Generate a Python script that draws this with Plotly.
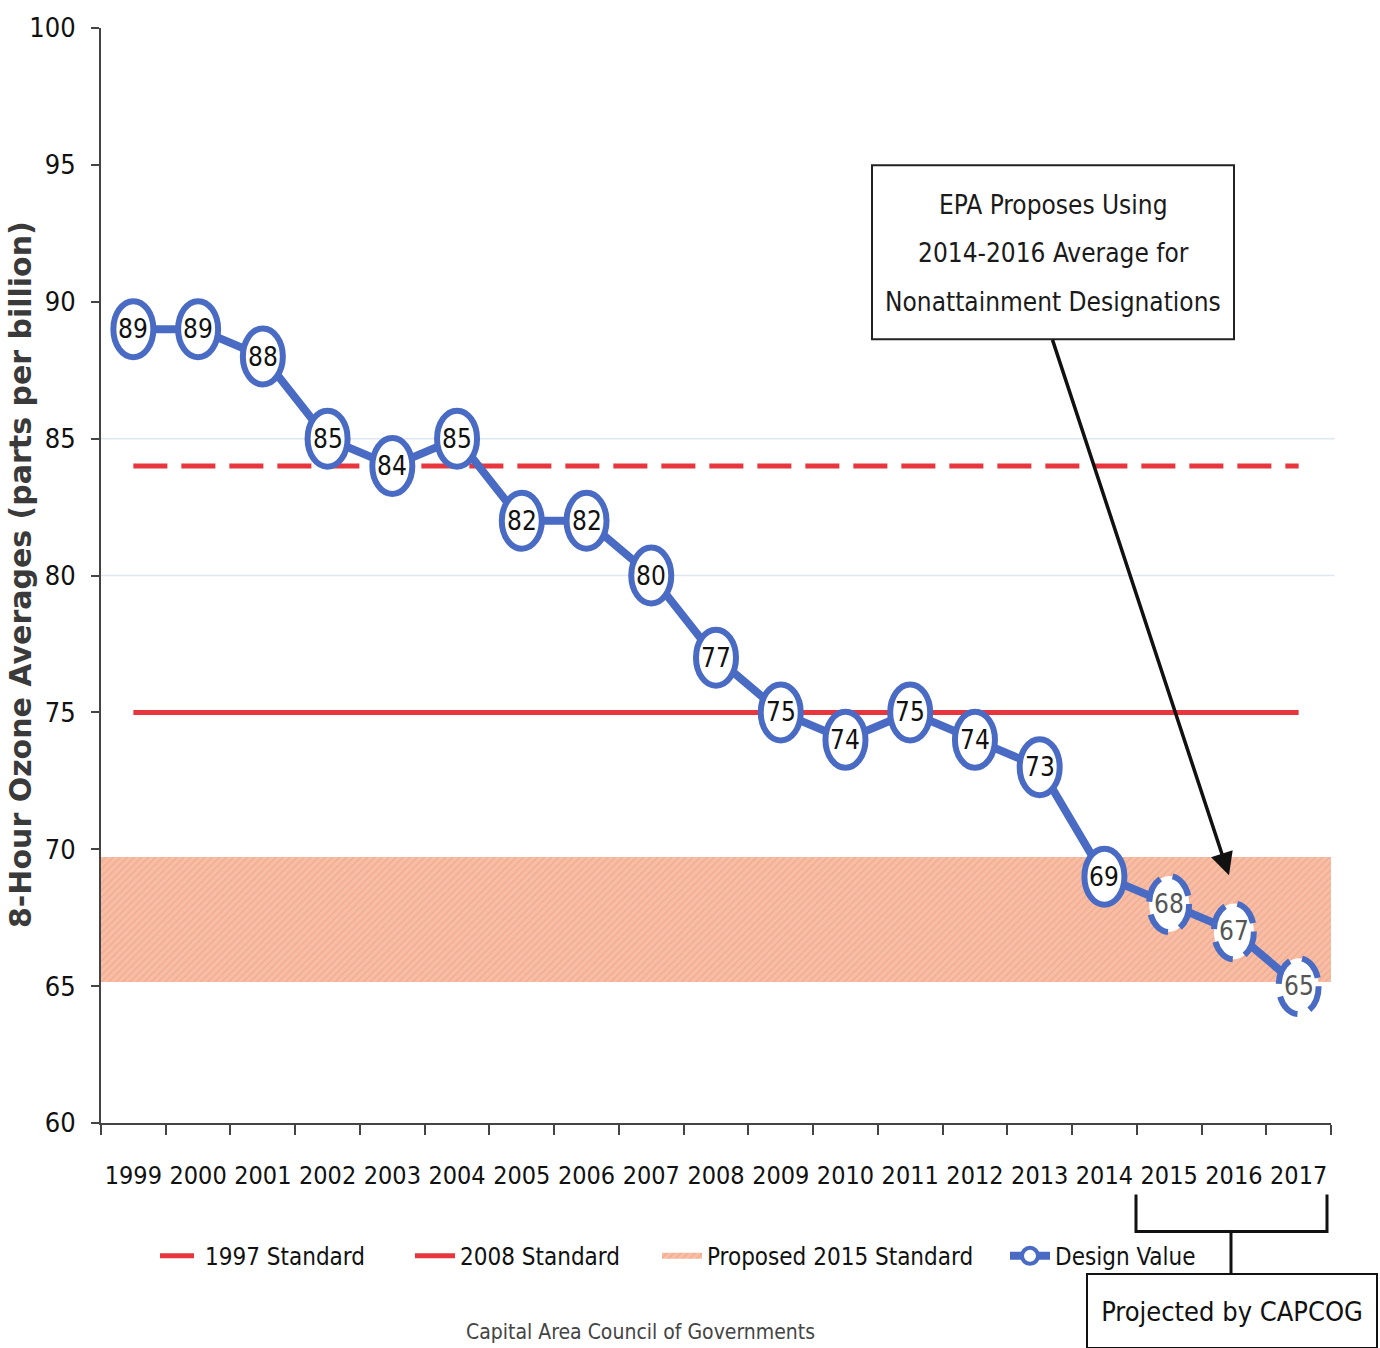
import plotly.graph_objects as go

# ---- data ----
years = ["1999", "2000", "2001", "2002", "2003", "2004", "2005", "2006", "2007", "2008",
         "2009", "2010", "2011", "2012", "2013", "2014", "2015", "2016", "2017"]
design_values = [89, 89, 88, 85, 84, 85, 82, 82, 80, 77, 75, 74, 75, 74, 73, 69, 68, 67, 65]
projected = [False] * 16 + [True] * 3
standard_1997 = 84
standard_2008 = 75
proposed_2015_low = 65.15
proposed_2015_high = 69.7
grid_levels = [80, 85]
y_ticks = [60, 65, 70, 75, 80, 85, 90, 95, 100]

BLUE = "#4a6bc4"
RED = "#e8363f"
BAND = "#f7bea5"
BAND_LINE = "#ec9a7e"
NARROW = "DejaVu Sans Condensed, Liberation Sans Narrow, Roboto Condensed, sans-serif"

W, H = 1380, 1348
L, R, T, B = 101, 49, 22, 225
PW, PH = W - L - R, H - T - B


def px(xp):
    return (xp - L) / PW


def py(yp):
    return (H - B - yp) / PH


fig = go.Figure()

# proposed 2015 band (bars spanning each category fully)
fig.add_trace(go.Bar(
    x=years,
    y=[proposed_2015_high - proposed_2015_low] * len(years),
    base=[proposed_2015_low] * len(years),
    width=1,
    marker=dict(color=BAND, line=dict(width=0),
                pattern=dict(shape="/", fgcolor=BAND_LINE, size=5, solidity=0.3,
                             fillmode="overlay")),
    showlegend=False,
    hoverinfo="skip",
))
# legend entry for the band (area swatch)
fig.add_trace(go.Scatter(
    x=[years[0], years[0]], y=[None, None], mode="none", fill="toself",
    fillcolor=BAND, fillpattern=dict(shape="/", fgcolor=BAND_LINE, size=5, solidity=0.3,
                                     fillmode="overlay"),
    name="Proposed 2015 Standard", legend="legend3", hoverinfo="skip",
))

fig.add_trace(go.Scatter(
    x=years, y=[standard_1997] * len(years), mode="lines",
    line=dict(color=RED, width=5, dash="34px,14px"),
    name="1997 Standard", legend="legend",
))
fig.add_trace(go.Scatter(
    x=years, y=[standard_2008] * len(years), mode="lines",
    line=dict(color=RED, width=5),
    name="2008 Standard", legend="legend2",
))
fig.add_trace(go.Scatter(
    x=years, y=design_values, mode="lines+markers",
    line=dict(color=BLUE, width=8),
    marker=dict(symbol="circle", size=16, color="white", line=dict(color=BLUE, width=4)),
    name="Design Value", legend="legend4",
))

shapes = []
for g in grid_levels:
    shapes.append(dict(type="line", xref="paper", yref="y", x0=0, x1=1.003, y0=g, y1=g,
                       line=dict(color="#dde7f1", width=1.5), layer="below"))

annotations = []
for i, (yr, v, pr) in enumerate(zip(years, design_values, projected)):
    shapes.append(dict(
        type="circle", xref="x", yref="y", xsizemode="pixel", ysizemode="pixel",
        xanchor=i, yanchor=v, x0=-20, x1=20, y0=-28, y1=28,
        fillcolor="white",
        line=dict(color=BLUE, width=6, dash="26px,13px" if pr else "solid"),
        layer="above",
    ))
    annotations.append(dict(
        x=i, y=v, xref="x", yref="y", text=str(v), showarrow=False,
        xanchor="center", yanchor="middle",
        font=dict(family=NARROW, size=26, color="#555555" if pr else "#111111"),
    ))

# EPA box
shapes.append(dict(type="rect", xref="paper", yref="paper",
                   x0=px(872), x1=px(1234), y0=py(335), y1=py(160),
                   line=dict(color="#222222", width=2), fillcolor="white", layer="above"))
for txt, yp in [("EPA Proposes Using", 200), ("2014-2016 Average for", 248),
                ("Nonattainment Designations", 298)]:
    annotations.append(dict(x=px(1053), y=py(yp), xref="paper", yref="paper", text=txt,
                            showarrow=False, xanchor="center", yanchor="middle",
                            font=dict(family=NARROW, size=26, color="#1a1a1a")))

# arrow
annotations.append(dict(x=px(1229), y=py(874), xref="paper", yref="paper", text="",
                        showarrow=True, ax=1052 - 1229, ay=337 - 874,
                        arrowcolor="#111111", arrowwidth=3.5, arrowhead=2, arrowsize=1.3,
                        standoff=0, startstandoff=0))

# bracket for projected years
shapes.append(dict(type="path", xref="paper", yref="paper",
                   path=f"M {px(1136)},{py(1195)} L {px(1136)},{py(1232)} L {px(1327)},{py(1232)} L {px(1327)},{py(1195)}",
                   line=dict(color="#111111", width=3)))
shapes.append(dict(type="line", xref="paper", yref="paper",
                   x0=px(1231), x1=px(1231), y0=py(1232), y1=py(1275),
                   line=dict(color="#111111", width=3)))
annotations.append(dict(x=px(1232), y=py(1312), xref="paper", yref="paper",
                        text="Projected by CAPCOG", showarrow=False,
                        xanchor="center", yanchor="middle",
                        width=286, height=70, bordercolor="#111111", borderwidth=2,
                        bgcolor="white",
                        font=dict(family=NARROW, size=27, color="#111111")))

# y title
annotations.append(dict(x=px(20), y=py(572), xref="paper", yref="paper",
                        xanchor="center", yanchor="middle",
                        text="8-Hour Ozone Averages (parts per billion)", textangle=-90,
                        showarrow=False,
                        font=dict(family="DejaVu Sans", size=30, color="#3a3a3a", weight="bold")))

# footer
annotations.append(dict(x=px(640), y=py(1333), xref="paper", yref="paper",
                        xanchor="center", yanchor="middle",
                        text="Capital Area Council of Governments", showarrow=False,
                        font=dict(family=NARROW, size=21, color="#444444")))

leg_common = dict(orientation="h", yanchor="middle", y=py(1257), xanchor="left",
                  bgcolor="rgba(0,0,0,0)", font=dict(family=NARROW, size=24, color="#111111"),
                  itemwidth=40)

fig.update_layout(
    width=W, height=H,
    margin=dict(l=L, r=R, t=T, b=B),
    paper_bgcolor="white", plot_bgcolor="white",
    bargap=0,
    showlegend=True,
    legend=dict(**leg_common, x=px(155)),
    legend2=dict(**leg_common, x=px(410)),
    legend3=dict(**leg_common, x=px(657)),
    legend4=dict(**leg_common, x=px(1005)),
    xaxis=dict(type="category", categoryorder="array", categoryarray=years,
               range=[-0.5, 18.5], tickson="boundaries", ticks="outside", ticklen=10,
               tickwidth=2, tickcolor="#444444", showline=True, linecolor="#444444",
               linewidth=2, showgrid=False, ticklabelstandoff=29, tickangle=0,
               tickfont=dict(family=NARROW, size=25, color="#111111")),
    yaxis=dict(range=[60, 100], tickvals=y_ticks, ticks="outside", ticklen=8,
               tickwidth=2, tickcolor="#444444", showline=True, linecolor="#444444",
               linewidth=2, showgrid=False, zeroline=False, ticklabelstandoff=10,
               tickfont=dict(family=NARROW, size=27, color="#111111")),
    shapes=shapes,
    annotations=annotations,
)

fig.write_html("out.html")
